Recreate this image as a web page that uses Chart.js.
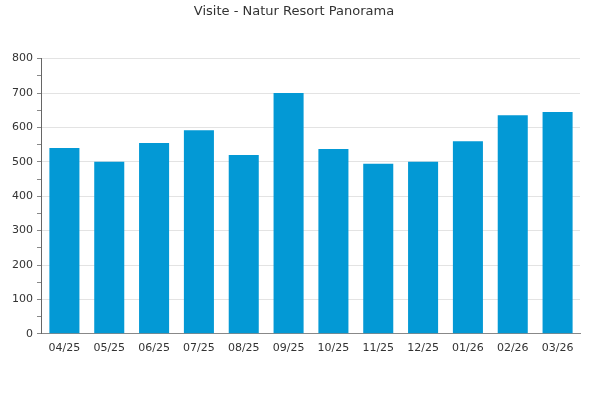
<!DOCTYPE html>
<html>
<head>
<meta charset="utf-8">
<script src="https://cdn.jsdelivr.net/npm/chart.js@4/dist/chart.umd.min.js"></script>
<style>
html,body{margin:0;padding:0;background:#fff;}
#wrap{width:600px;height:400px;position:relative;}
</style>
</head>
<body>
<div id="wrap"><canvas id="c" width="600" height="400"></canvas></div>
<script>
const categories = ['04/25','05/25','06/25','07/25','08/25','09/25','10/25','11/25','12/25','01/26','02/26','03/26'];
const visits = [540, 500, 555, 592, 520, 700, 537, 494, 500, 560, 635, 645];
const chartTitle = 'Visite - Natur Resort Panorama';
const yMax = 800;
const yStep = 50;

Chart.defaults.font.family = '"DejaVu Sans", sans-serif';
Chart.defaults.font.size = 11;
Chart.defaults.color = '#333';

new Chart(document.getElementById('c'), {
  type: 'bar',
  data: {
    labels: categories,
    datasets: [{
      label: chartTitle,
      data: visits,
      backgroundColor: '#0399D5',
      borderWidth: 0,
      barPercentage: 1,
      categoryPercentage: 0.67
    }]
  },
  options: {
    responsive: false,
    animation: false,
    layout: { padding: { top: 2, right: 20, bottom: 45, left: 8 } },
    plugins: {
      legend: { display: false },
      tooltip: { enabled: false },
      title: {
        display: true,
        text: chartTitle,
        color: '#333',
        font: { size: 13, weight: 'normal' },
        padding: { top: 2, bottom: 39 }
      }
    },
    scales: {
      x: {
        grid: { display: false },
        border: { display: true, color: '#888', width: 1 },
        ticks: { color: '#333', padding: 0, maxRotation: 0, autoSkip: false }
      },
      y: {
        min: 0,
        max: yMax,
        border: { display: true, color: '#666', width: 1 },
        grid: {
          color: (ctx) => (ctx.tick && ctx.tick.value % 100 === 0 && ctx.tick.value !== 0) ? '#e3e3e3' : 'rgba(0,0,0,0)',
          tickColor: '#888',
          tickLength: 5,
          drawTicks: true
        },
        ticks: {
          stepSize: yStep,
          autoSkip: false,
          maxTicksLimit: 30,
          color: '#333',
          padding: 4,
          callback: (v) => (v % 100 === 0 ? v : '')
        }
      }
    }
  }
});
</script>
</body>
</html>
